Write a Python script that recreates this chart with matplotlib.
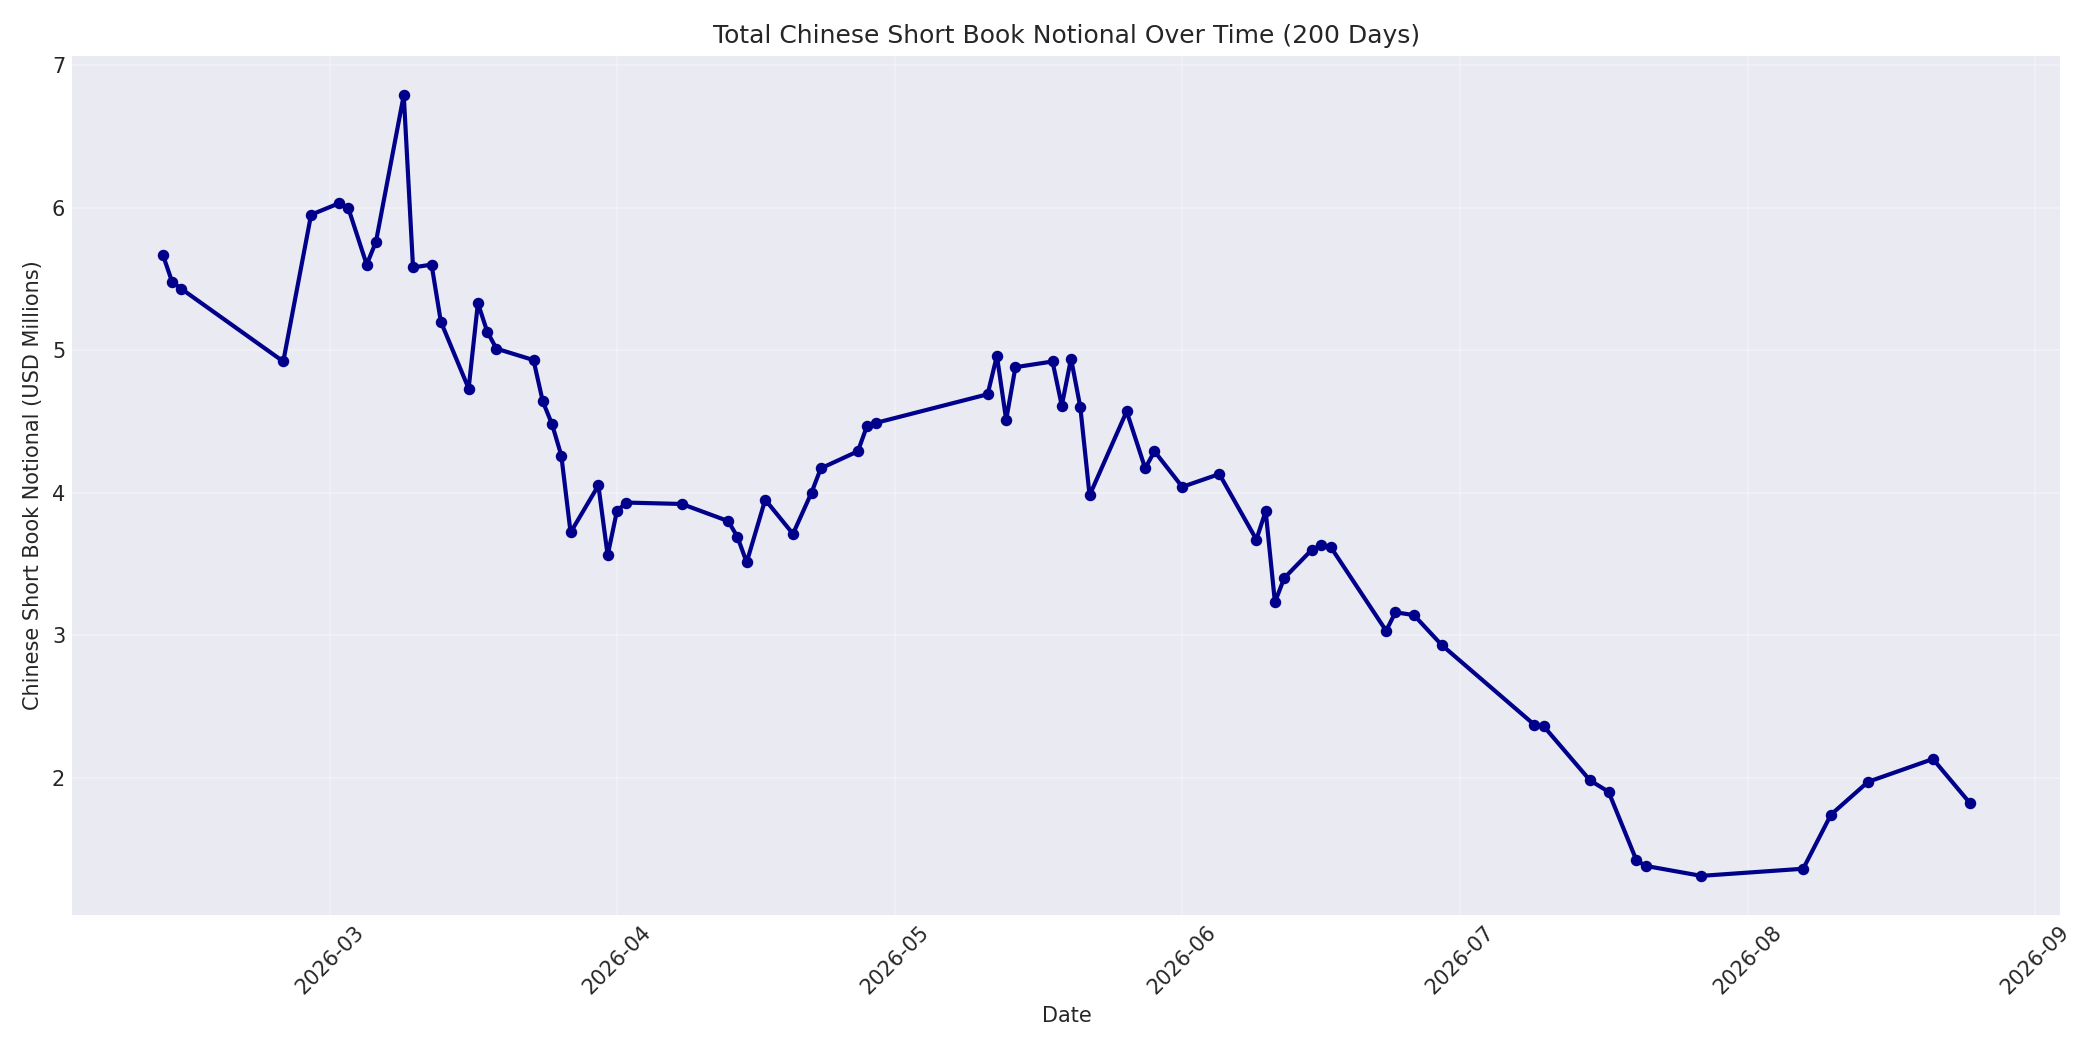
import numpy as np
import pandas as pd
import matplotlib
matplotlib.use('Agg')
import matplotlib.pyplot as plt

# =========================================================
# 데이터
# =========================================================
dates = [
    '2026-02-11', '2026-02-12', '2026-02-13', '2026-02-24', '2026-02-27',
    '2026-03-02', '2026-03-03', '2026-03-05', '2026-03-06', '2026-03-09',
    '2026-03-10', '2026-03-12', '2026-03-13', '2026-03-16', '2026-03-17',
    '2026-03-18', '2026-03-19', '2026-03-23', '2026-03-24', '2026-03-25',
    '2026-03-26', '2026-03-27', '2026-03-30', '2026-03-31', '2026-04-01',
    '2026-04-02', '2026-04-08', '2026-04-13', '2026-04-14', '2026-04-15',
    '2026-04-17', '2026-04-20', '2026-04-22', '2026-04-23', '2026-04-27',
    '2026-04-28', '2026-04-29', '2026-05-11', '2026-05-12', '2026-05-13',
    '2026-05-14', '2026-05-18', '2026-05-19', '2026-05-20', '2026-05-21',
    '2026-05-22', '2026-05-26', '2026-05-28', '2026-05-29', '2026-06-01',
    '2026-06-05', '2026-06-09', '2026-06-10', '2026-06-11', '2026-06-12',
    '2026-06-15', '2026-06-16', '2026-06-17', '2026-06-23', '2026-06-24',
    '2026-06-26', '2026-06-29', '2026-07-09', '2026-07-10', '2026-07-15',
    '2026-07-17', '2026-07-20', '2026-07-21', '2026-07-27', '2026-08-07',
    '2026-08-10', '2026-08-14', '2026-08-21', '2026-08-25',
]
notional = [
    5.67, 5.48, 5.43, 4.92, 5.95,
    6.03, 6.00, 5.60, 5.76, 6.79,
    5.58, 5.60, 5.20, 4.73, 5.33,
    5.13, 5.01, 4.93, 4.64, 4.48,
    4.26, 3.72, 4.05, 3.56, 3.87,
    3.93, 3.92, 3.80, 3.69, 3.51,
    3.95, 3.71, 4.00, 4.17, 4.29,
    4.47, 4.49, 4.69, 4.96, 4.51,
    4.88, 4.92, 4.61, 4.94, 4.60,
    3.98, 4.57, 4.17, 4.29, 4.04,
    4.13, 3.67, 3.87, 3.23, 3.40,
    3.60, 3.63, 3.62, 3.03, 3.16,
    3.14, 2.93, 2.37, 2.36, 1.98,
    1.90, 1.42, 1.38, 1.31, 1.36,
    1.74, 1.97, 2.13, 1.82,
]

x = pd.to_datetime(dates)

# =========================================================
# 시각화
# =========================================================
plt.style.use('seaborn-v0_8-darkgrid')
plt.rcParams['font.family'] = ['DejaVu Sans']
fig, ax = plt.subplots(figsize=(14, 7))

ax.plot(x, notional, marker='o', color='darkblue',
        linewidth=2, markersize=4.5)

ax.set_title('Total Chinese Short Book Notional Over Time (200 Days)')
ax.set_xlabel('Date')
ax.set_ylabel('Chinese Short Book Notional (USD Millions)')
ax.grid(True, alpha=0.3)
plt.xticks(rotation=45)

plt.tight_layout()
plt.savefig('out.png', dpi=150)
